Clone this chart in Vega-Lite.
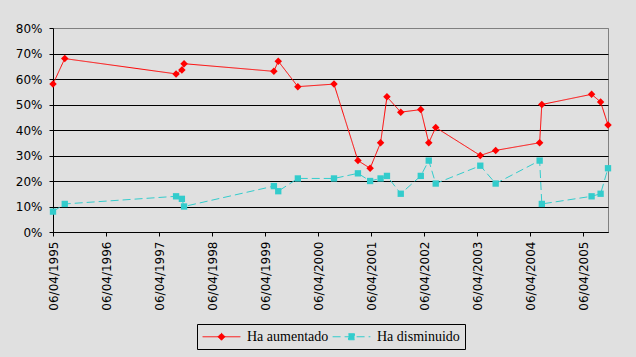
{
  "$schema": "https://vega.github.io/schema/vega-lite/v6.json",
  "width": 555,
  "height": 204,
  "autosize": "none",
  "padding": {"left": 53, "top": 28, "right": 28, "bottom": 125},
  "background": "#e0e0e0",
  "config": {
    "view": {"stroke": "#808080", "strokeWidth": 1, "fill": "#e0e0e0"},
    "axis": {"labelFont": "DejaVu Sans", "labelFontSize": 12, "labelColor": "black", "domainColor": "black", "tickColor": "black", "tickSize": 4}
  },
  "data": {"values": [
    {"date": "1995-04-06", "series": "Ha aumentado", "value": 0.58},
    {"date": "1995-06-26", "series": "Ha aumentado", "value": 0.68},
    {"date": "1997-08-01", "series": "Ha aumentado", "value": 0.62},
    {"date": "1997-09-10", "series": "Ha aumentado", "value": 0.635},
    {"date": "1997-09-25", "series": "Ha aumentado", "value": 0.66},
    {"date": "1999-06-06", "series": "Ha aumentado", "value": 0.63},
    {"date": "1999-07-06", "series": "Ha aumentado", "value": 0.67},
    {"date": "1999-11-18", "series": "Ha aumentado", "value": 0.57},
    {"date": "2000-07-24", "series": "Ha aumentado", "value": 0.58},
    {"date": "2001-01-05", "series": "Ha aumentado", "value": 0.28},
    {"date": "2001-03-30", "series": "Ha aumentado", "value": 0.25},
    {"date": "2001-06-10", "series": "Ha aumentado", "value": 0.35},
    {"date": "2001-07-24", "series": "Ha aumentado", "value": 0.53},
    {"date": "2001-10-27", "series": "Ha aumentado", "value": 0.47},
    {"date": "2002-03-14", "series": "Ha aumentado", "value": 0.48},
    {"date": "2002-05-08", "series": "Ha aumentado", "value": 0.35},
    {"date": "2002-06-25", "series": "Ha aumentado", "value": 0.41},
    {"date": "2003-04-28", "series": "Ha aumentado", "value": 0.30},
    {"date": "2003-08-12", "series": "Ha aumentado", "value": 0.32},
    {"date": "2004-06-10", "series": "Ha aumentado", "value": 0.35},
    {"date": "2004-06-25", "series": "Ha aumentado", "value": 0.50},
    {"date": "2005-06-03", "series": "Ha aumentado", "value": 0.54},
    {"date": "2005-08-04", "series": "Ha aumentado", "value": 0.51},
    {"date": "2005-09-24", "series": "Ha aumentado", "value": 0.42},
    {"date": "1995-04-06", "series": "Ha disminuido", "value": 0.08},
    {"date": "1995-06-26", "series": "Ha disminuido", "value": 0.11},
    {"date": "1997-08-01", "series": "Ha disminuido", "value": 0.14},
    {"date": "1997-09-10", "series": "Ha disminuido", "value": 0.13},
    {"date": "1997-09-25", "series": "Ha disminuido", "value": 0.10},
    {"date": "1999-06-06", "series": "Ha disminuido", "value": 0.18},
    {"date": "1999-07-06", "series": "Ha disminuido", "value": 0.16},
    {"date": "1999-11-18", "series": "Ha disminuido", "value": 0.21},
    {"date": "2000-07-24", "series": "Ha disminuido", "value": 0.21},
    {"date": "2001-01-05", "series": "Ha disminuido", "value": 0.23},
    {"date": "2001-03-30", "series": "Ha disminuido", "value": 0.20},
    {"date": "2001-06-10", "series": "Ha disminuido", "value": 0.21},
    {"date": "2001-07-24", "series": "Ha disminuido", "value": 0.22},
    {"date": "2001-10-27", "series": "Ha disminuido", "value": 0.15},
    {"date": "2002-03-14", "series": "Ha disminuido", "value": 0.22},
    {"date": "2002-05-08", "series": "Ha disminuido", "value": 0.28},
    {"date": "2002-06-25", "series": "Ha disminuido", "value": 0.19},
    {"date": "2003-04-28", "series": "Ha disminuido", "value": 0.26},
    {"date": "2003-08-12", "series": "Ha disminuido", "value": 0.19},
    {"date": "2004-06-10", "series": "Ha disminuido", "value": 0.28},
    {"date": "2004-06-25", "series": "Ha disminuido", "value": 0.11},
    {"date": "2005-06-03", "series": "Ha disminuido", "value": 0.14},
    {"date": "2005-08-04", "series": "Ha disminuido", "value": 0.15},
    {"date": "2005-09-24", "series": "Ha disminuido", "value": 0.25}
  ]},
  "encoding": {
    "x": {
      "field": "date", "type": "temporal", "title": null,
      "scale": {"type": "utc", "domain": [{"year": 1995, "month": 4, "date": 6, "utc": true}, {"year": 2005, "month": 9, "date": 24, "utc": true}]},
      "axis": {
        "values": [
          {"year": 1995, "month": 4, "date": 6, "utc": true},
          {"year": 1996, "month": 4, "date": 6, "utc": true},
          {"year": 1997, "month": 4, "date": 6, "utc": true},
          {"year": 1998, "month": 4, "date": 6, "utc": true},
          {"year": 1999, "month": 4, "date": 6, "utc": true},
          {"year": 2000, "month": 4, "date": 6, "utc": true},
          {"year": 2001, "month": 4, "date": 6, "utc": true},
          {"year": 2002, "month": 4, "date": 6, "utc": true},
          {"year": 2003, "month": 4, "date": 6, "utc": true},
          {"year": 2004, "month": 4, "date": 6, "utc": true},
          {"year": 2005, "month": 4, "date": 6, "utc": true}
        ],
        "labelExpr": "utcFormat(datum.value, '%d/%m/%Y')",
        "labelAngle": -90, "labelPadding": 5, "grid": false, "labelOverlap": false, "labelFlush": false
      }
    },
    "y": {
      "field": "value", "type": "quantitative", "title": null,
      "scale": {"domain": [0, 0.8], "nice": false},
      "axis": {
        "values": [0, 0.1, 0.2, 0.3, 0.4, 0.5, 0.6, 0.7, 0.8],
        "format": ".0%", "labelPadding": 7, "grid": true,
        "gridColor": {"condition": {"test": "datum.value >= 0.79", "value": "#808080"}, "value": "black"},
        "gridOpacity": 1, "labelFlush": false
      }
    }
  },
  "layer": [
    {
      "mark": {"type": "line", "strokeWidth": 1},
      "encoding": {
        "color": {
          "field": "series", "type": "nominal", "title": null,
          "scale": {"domain": ["Ha aumentado", "Ha disminuido"], "range": ["#ff0000", "#33cccc"]},
          "legend": {
            "orient": "none", "legendX": 144, "legendY": 296, "direction": "horizontal",
            "strokeColor": "black", "fillColor": "#e0e0e0", "padding": 5,
            "symbolSize": 196, "symbolStrokeWidth": 1, "symbolOffset": 12,
            "labelOffset": 18, "columnPadding": 1,
            "labelFont": "Liberation Serif", "labelFontSize": 14, "labelColor": "black",
            "encode": {"symbols": {"update": {
              "shape": {"signal": "datum.value === 'Ha aumentado' ? 'M-2.7,0L2.7,0M0,-0.5L0.5,0L0,0.5L-0.5,0Z' : 'M-2.7,0L2.7,0M-0.43,-0.43L0.43,-0.43L0.43,0.43L-0.43,0.43Z'"},
              "fill": {"signal": "datum.value === 'Ha aumentado' ? '#ff0000' : '#33cccc'"},
              "fillOpacity": {"value": 1},
              "stroke": {"signal": "datum.value === 'Ha aumentado' ? '#ff0000' : '#33cccc'"},
              "strokeWidth": {"value": 1},
              "opacity": {"value": 1}
            }}}
          }
        },
        "strokeDash": {
          "field": "series", "type": "nominal", "title": null,
          "scale": {"domain": ["Ha aumentado", "Ha disminuido"], "range": [[1, 0], [8, 4]]}
        }
      }
    },
    {
      "transform": [{"filter": "datum.series === 'Ha aumentado'"}],
      "mark": {"type": "point", "shape": "diamond", "filled": true, "opacity": 1, "strokeWidth": 0, "size": 56, "color": "#ff0000"}
    },
    {
      "transform": [{"filter": "datum.series === 'Ha disminuido'"}],
      "mark": {"type": "point", "shape": "square", "filled": true, "opacity": 1, "strokeWidth": 0, "size": 40, "color": "#33cccc"}
    }
  ]
}
